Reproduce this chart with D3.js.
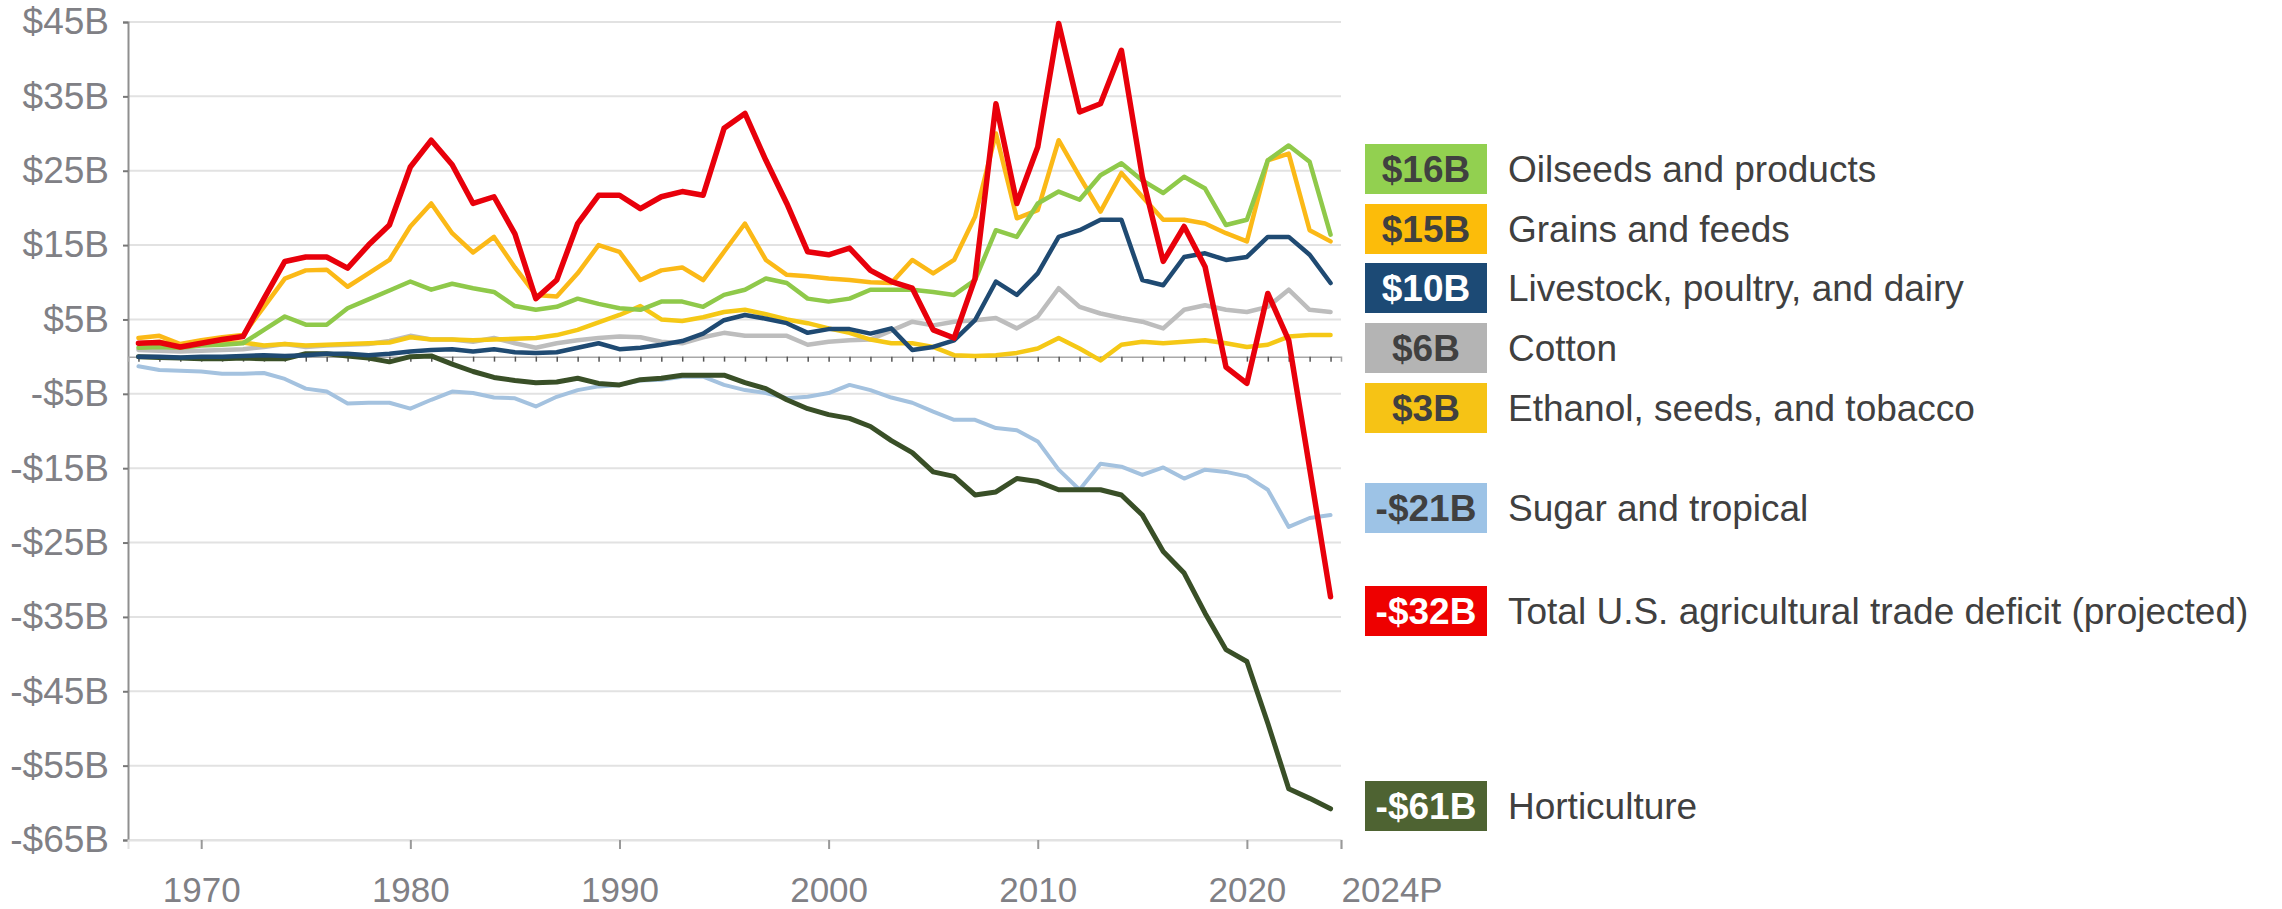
<!DOCTYPE html>
<html>
<head>
<meta charset="utf-8">
<script src="https://cdn.jsdelivr.net/npm/d3@7"></script>
<style>
  body { margin: 0; background: #fff; }
  svg { display: block; font-family: "Liberation Sans", Arial, sans-serif; }
</style>
</head>
<body>
<div id="chart"></div>
<script>
// fiscal years, 1967 .. 2024 (2024 projected)
const years = [1967, 1968, 1969, 1970, 1971, 1972, 1973, 1974, 1975, 1976,
  1977, 1978, 1979, 1980, 1981, 1982, 1983, 1984, 1985, 1986,
  1987, 1988, 1989, 1990, 1991, 1992, 1993, 1994, 1995, 1996,
  1997, 1998, 1999, 2000, 2001, 2002, 2003, 2004, 2005, 2006,
  2007, 2008, 2009, 2010, 2011, 2012, 2013, 2014, 2015, 2016,
  2017, 2018, 2019, 2020, 2021, 2022, 2023, 2024];

// trade balance, billion $
const oilseeds = [1.2, 1.3, 1.2, 1.5, 1.6, 1.8, 3.6, 5.4, 4.3, 4.3,
  6.5, 7.7, 8.9, 10.1, 9.0, 9.8, 9.2, 8.7, 6.8, 6.3,
  6.7, 7.8, 7.1, 6.5, 6.3, 7.4, 7.4, 6.7, 8.3, 9.0,
  10.5, 9.9, 7.8, 7.4, 7.8, 9.0, 9.0, 9.0, 8.7, 8.3,
  10.3, 17.0, 16.1, 20.6, 22.2, 21.1, 24.4, 26.0, 23.7, 22.0,
  24.2, 22.6, 17.7, 18.4, 26.4, 28.4, 26.2, 16.4];
const grains = [2.5, 2.8, 1.7, 2.2, 2.6, 2.9, 6.7, 10.5, 11.6, 11.7,
  9.4, 11.2, 13.0, 17.5, 20.6, 16.6, 14.0, 16.1, 12.0, 8.3,
  8.1, 11.2, 15.0, 14.1, 10.3, 11.6, 12.0, 10.3, 14.1, 17.9,
  13.0, 11.0, 10.8, 10.5, 10.3, 10.0, 9.9, 13.0, 11.2, 13.0,
  18.8, 30.0, 18.6, 19.7, 29.1, 24.2, 19.5, 24.7, 21.5, 18.4,
  18.4, 17.9, 16.6, 15.5, 26.4, 27.3, 17.0, 15.5];
const livestock = [0.0, 0.0, -0.1, 0.0, 0.0, 0.1, 0.2, 0.1, 0.2, 0.4,
  0.4, 0.2, 0.4, 0.7, 0.9, 1.0, 0.7, 1.0, 0.6, 0.5,
  0.6, 1.2, 1.8, 1.0, 1.2, 1.6, 2.1, 3.1, 4.9, 5.6,
  5.1, 4.5, 3.2, 3.7, 3.7, 3.1, 3.8, 0.9, 1.3, 2.2,
  4.9, 10.1, 8.3, 11.2, 16.1, 17.0, 18.4, 18.4, 10.3, 9.6,
  13.4, 13.9, 13.0, 13.4, 16.1, 16.1, 13.7, 9.9];
const cotton = [0.9, 0.8, 0.7, 0.8, 0.9, 1.0, 1.3, 1.7, 1.3, 1.5,
  1.6, 1.7, 2.1, 2.8, 2.3, 2.3, 2.0, 2.5, 1.8, 1.2,
  1.8, 2.2, 2.5, 2.7, 2.6, 2.0, 1.8, 2.6, 3.2, 2.8,
  2.8, 2.8, 1.6, 2.0, 2.2, 2.3, 3.5, 4.7, 4.2, 4.7,
  4.9, 5.2, 3.8, 5.4, 9.2, 6.7, 5.8, 5.2, 4.7, 3.8,
  6.3, 6.9, 6.3, 6.0, 6.7, 9.0, 6.3, 6.0];
const ethanol = [1.8, 2.0, 1.5, 1.7, 1.8, 1.9, 1.5, 1.7, 1.5, 1.6,
  1.7, 1.8, 1.9, 2.6, 2.3, 2.3, 2.2, 2.3, 2.4, 2.5,
  2.9, 3.6, 4.6, 5.6, 6.8, 5.0, 4.8, 5.3, 6.0, 6.3,
  5.7, 5.0, 4.5, 3.8, 3.2, 2.3, 1.8, 1.8, 1.3, 0.2,
  0.1, 0.2, 0.5, 1.1, 2.5, 1.1, -0.5, 1.6, 2.0, 1.8,
  2.0, 2.2, 1.8, 1.3, 1.6, 2.7, 2.9, 2.9];
const sugar = [-1.3, -1.8, -1.9, -2.0, -2.3, -2.3, -2.2, -3.0, -4.3, -4.7,
  -6.3, -6.2, -6.2, -7.0, -5.8, -4.7, -4.9, -5.5, -5.6, -6.7,
  -5.4, -4.5, -4.0, -3.8, -3.2, -3.1, -2.7, -2.7, -3.8, -4.5,
  -4.9, -5.6, -5.4, -4.9, -3.8, -4.5, -5.5, -6.2, -7.4, -8.5,
  -8.5, -9.6, -9.9, -11.4, -15.2, -17.9, -14.4, -14.8, -15.9, -14.9,
  -16.4, -15.2, -15.5, -16.1, -17.9, -22.9, -21.7, -21.3];
const total = [1.8, 1.9, 1.3, 1.8, 2.3, 2.7, 7.8, 12.8, 13.4, 13.4,
  11.9, 15.0, 17.7, 25.5, 29.1, 25.8, 20.6, 21.5, 16.5, 7.8,
  10.3, 17.9, 21.7, 21.7, 19.9, 21.5, 22.2, 21.7, 30.7, 32.7,
  26.4, 20.6, 14.1, 13.7, 14.6, 11.6, 10.1, 9.2, 3.6, 2.5,
  10.5, 34.0, 20.6, 28.2, 44.8, 32.9, 34.0, 41.2, 24.2, 12.8,
  17.5, 12.1, -1.4, -3.6, 8.5, 2.2, -15.0, -32.3];
const horticulture = [0.0, -0.1, -0.2, -0.3, -0.3, -0.2, -0.3, -0.3, 0.4, 0.4,
  0.1, -0.2, -0.7, 0.0, 0.1, -1.0, -2.0, -2.8, -3.2, -3.5,
  -3.4, -2.9, -3.6, -3.8, -3.1, -2.9, -2.5, -2.5, -2.5, -3.5,
  -4.3, -5.8, -7.0, -7.8, -8.3, -9.4, -11.3, -12.9, -15.5, -16.1,
  -18.6, -18.2, -16.4, -16.8, -17.9, -17.9, -17.9, -18.6, -21.3, -26.2,
  -29.1, -34.5, -39.4, -41.0, -49.3, -58.1, -59.4, -60.8];

const yTicks = [45, 35, 25, 15, 5, -5, -15, -25, -35, -45, -55, -65];
const xTicks = [1970, 1980, 1990, 2000, 2010, 2020];
const lastLabel = "2024P";

const legendValues = ["$16B", "$15B", "$10B", "$6B", "$3B", "-$21B", "-$32B", "-$61B"];
const legendNames = ["Oilseeds and products", "Grains and feeds", "Livestock, poultry, and dairy",
  "Cotton", "Ethanol, seeds, and tobacco", "Sugar and tropical",
  "Total U.S. agricultural trade deficit (projected)", "Horticulture"];

// series style: line colour, legend box colour, box text colour, width
const series = [
  { key: "cotton", values: cotton, line: "#bdbdbd", box: "#b4b4b4", txt: "#404040", w: 4.5, leg: 3 },
  { key: "ethanol", values: ethanol, line: "#f5c816", box: "#f6c315", txt: "#404040", w: 4.5, leg: 4 },
  { key: "sugar", values: sugar, line: "#a4c2df", box: "#9dc3e6", txt: "#404040", w: 4, leg: 5 },
  { key: "horticulture", values: horticulture, line: "#394f27", box: "#4e6332", txt: "#ffffff", w: 5, leg: 7 },
  { key: "grains", values: grains, line: "#fbb917", box: "#fcbc0a", txt: "#404040", w: 4.5, leg: 1 },
  { key: "oilseeds", values: oilseeds, line: "#8fc94a", box: "#92d050", txt: "#404040", w: 4.5, leg: 0 },
  { key: "livestock", values: livestock, line: "#1f4a72", box: "#1c4a75", txt: "#ffffff", w: 4.5, leg: 2 },
  { key: "total", values: total, line: "#e8000b", box: "#ee0000", txt: "#ffffff", w: 5.5, leg: 6 }
];

const width = 2282, height = 909;
const plot = { left: 128, right: 1341, top: 22, bottom: 840 };
const legendX = 1365, legendW = 122, legendH = 50;
const legendTop = [144, 204, 263, 323, 383, 483, 586, 781];

const svg = d3.select("#chart").append("svg")
  .attr("width", width)
  .attr("height", height);

const x = d3.scaleLinear()
  .domain([1966.5, 2024.5])
  .range([plot.left, plot.right]);
const y = d3.scaleLinear()
  .domain([-65, 45])
  .range([plot.bottom, plot.top]);

const fmt = (d) => (d < 0 ? "-$" : "$") + Math.abs(d) + "B";

// grid lines
svg.append("g")
  .selectAll("line")
  .data(yTicks)
  .enter()
  .append("line")
  .attr("x1", plot.left)
  .attr("x2", plot.right)
  .attr("y1", (d) => y(d))
  .attr("y2", (d) => y(d))
  .attr("stroke", "#e2e2e2")
  .attr("stroke-width", 2);

// y axis
const yAxis = svg.append("g")
  .attr("transform", `translate(${plot.left},0)`)
  .call(d3.axisLeft(y).tickValues(yTicks).tickFormat(fmt).tickSize(5).tickPadding(14));
yAxis.select(".domain").attr("stroke", "#8f8f8f").attr("stroke-width", 2);
yAxis.selectAll(".tick line").attr("stroke", "#777").attr("stroke-width", 2);
yAxis.selectAll("text")
  .attr("fill", "#808085")
  .style("font-size", "37px");

// bottom axis with decade ticks
const xAxis = svg.append("g")
  .attr("transform", `translate(0,${plot.bottom})`)
  .call(d3.axisBottom(x).tickValues(xTicks.concat([2024.5]))
    .tickFormat((d, i) => (d === 2024.5 ? lastLabel : d))
    .tickSize(9).tickPadding(28));
xAxis.select(".domain").attr("stroke", "#e2e2e2").attr("stroke-width", 2);
xAxis.selectAll(".tick line").attr("stroke", "#999").attr("stroke-width", 2);
xAxis.selectAll("text")
  .attr("fill", "#808085")
  .style("font-size", "35px");
xAxis.selectAll(".tick")
  .filter((d) => d === 2024.5)
  .select("text")
  .attr("text-anchor", "start")
  .attr("x", 0);

// zero line with yearly tick marks
const zeroAxis = svg.append("g")
  .attr("transform", `translate(0,${y(0)})`)
  .call(d3.axisBottom(x).tickValues(years).tickSize(5).tickFormat(""));
zeroAxis.select(".domain").attr("stroke", "#a8a8a8").attr("stroke-width", 1.5);
zeroAxis.selectAll(".tick line").attr("stroke", "#555").attr("stroke-width", 1.5);

// lines
const line = d3.line()
  .x((d, i) => x(years[i]))
  .y((d) => y(d));

svg.append("g")
  .selectAll("path")
  .data(series)
  .enter()
  .append("path")
  .attr("d", (s) => line(s.values))
  .attr("fill", "none")
  .attr("stroke", (s) => s.line)
  .attr("stroke-width", (s) => s.w)
  .attr("stroke-linejoin", "round")
  .attr("stroke-linecap", "round");

// legend
const legendData = series.slice().sort((a, b) => a.leg - b.leg);
const legend = svg.append("g")
  .selectAll("g")
  .data(legendData)
  .enter()
  .append("g")
  .attr("transform", (s, i) => `translate(${legendX},${legendTop[i]})`);

legend.append("rect")
  .attr("width", legendW)
  .attr("height", legendH)
  .attr("fill", (s) => s.box);

legend.append("text")
  .attr("x", legendW / 2)
  .attr("y", legendH / 2 + 13)
  .attr("text-anchor", "middle")
  .attr("fill", (s) => s.txt)
  .style("font-size", "37px")
  .style("font-weight", "bold")
  .text((s) => legendValues[s.leg]);

legend.append("text")
  .attr("x", legendW + 21)
  .attr("y", legendH / 2 + 13)
  .attr("fill", "#404040")
  .style("font-size", "37px")
  .text((s) => legendNames[s.leg]);
</script>
</body>
</html>
